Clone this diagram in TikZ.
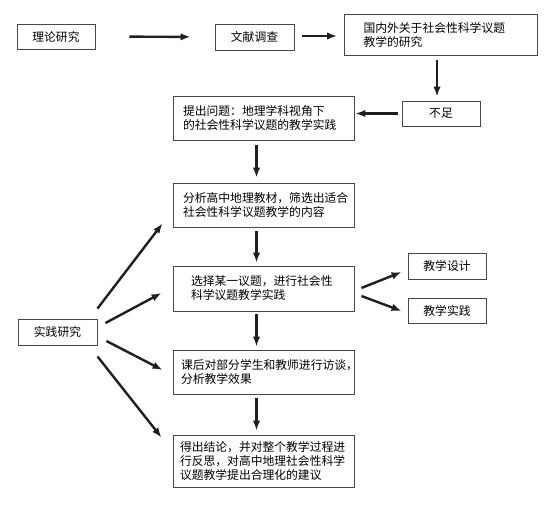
\documentclass[tikz,border=0pt]{standalone}
\usepackage{fontspec}
\setmainfont{Noto Sans CJK SC}
\usetikzlibrary{arrows.meta,calc}
\begin{document}
\begin{tikzpicture}[x=1pt,y=-1pt,
  box/.style={draw=black!72, line width=0.9pt, rectangle, font=\fontsize{11.8}{14}\selectfont, inner ysep=0pt},
  lbox/.style={box, align=left},
  arr/.style={draw=black!88, line width=2.4pt, -{Latex[length=10pt,width=7.5pt]}}]
\useasboundingbox (0,0) rectangle (558,519);
\fill[white] (0,0) rectangle (558,519);
% top row
\node[box, minimum width=78pt, minimum height=25pt] (a) at (56,36.5) {理论研究};
\node[box, minimum width=79pt, minimum height=26pt] (b) at (254.5,37) {文献调查};
\node[lbox, text width=155pt, inner xsep=19pt, minimum height=41pt] (c) at (441,34.5) {国内外关于社会性科学议题\\教学的研究};
\node[box, minimum width=78pt, minimum height=25pt] (d) at (441,113.5) {不足};
% main column
\node[lbox, text width=161pt, inner xsep=10pt, minimum height=44pt] (e) at (263.5,118) {提出问题：地理学科视角下\\的社会性科学议题的教学实践};
\node[lbox, text width=161pt, inner xsep=10pt, minimum height=44pt] (f) at (263.5,205) {分析高中地理教材，筛选出适合\\社会性科学议题教学的内容};
\node[lbox, text width=145pt, inner xsep=18pt, minimum height=45pt] (g) at (263.5,288.5) {选择某一议题，进行社会性\\科学议题教学实践};
\node[lbox, text width=165pt, inner xsep=8pt, minimum height=44pt] (h) at (263.5,372) {课后对部分学生和教师进行访谈，\\分析教学效果};
\node[lbox, text width=167pt, inner xsep=7pt, minimum height=52pt] (i) at (263.5,461) {得出结论，并对整个教学过程进\\行反思，对高中地理社会性科学\\议题教学提出合理化的建议};
% side boxes
\node[box, minimum width=79pt, minimum height=26pt] (j) at (57.5,332) {实践研究};
\node[box, minimum width=78pt, minimum height=26pt] (k) at (447,266) {教学设计};
\node[box, minimum width=78pt, minimum height=25pt] (l) at (447,310.5) {教学实践};
% arrows
\draw[arr, shorten <=34pt, shorten >=24pt] (a.east) -- (b.west);
\draw[arr, shorten <=8pt, shorten >=7pt] ($(b.east)+(0,-1)$) -- ($(b.east -| c.west)+(0,-1)$);
\draw[arr, shorten <=5pt, shorten >=4pt] ($(c.south)+(-4,0)$) -- ($(d.north)+(-4,0)$);
\draw[arr, shorten <=4pt, shorten >=1pt] (d.west) -- (d.west -| e.east);
\draw[arr, shorten <=5pt, shorten >=5pt] ($(e.south)+(-7,0)$) -- ($(f.north)+(-7,0)$);
\draw[arr, shorten <=4pt, shorten >=3pt] ($(f.south)+(-7,0)$) -- ($(g.north)+(-7,0)$);
\draw[arr, shorten <=3pt, shorten >=3pt] ($(g.south)+(-7,0)$) -- ($(h.north)+(-7,0)$);
\draw[arr, shorten <=4pt, shorten >=4pt] ($(h.south)+(-7,0)$) -- ($(i.north)+(-7,0)$);
\draw[arr] ($(g.east)+(7,-0.5)$) -- ($(k.west)+(-6,6)$);
\draw[arr] ($(g.east)+(7,7.5)$) -- ($(l.west)+(-6,0.5)$);
\draw[arr] ($(j.north east)+(0,-10)$) -- ($(f.south west)+(-10,-4)$);
\draw[arr] ($(j.east)+(8,-9)$) -- ($(g.west)+(-11,4.5)$);
\draw[arr] ($(j.east)+(9,9)$) -- ($(h.west)+(-10,-2)$);
\draw[arr] ($(j.south east)+(0,11)$) -- ($(i.north west)+(-11,3)$);
\end{tikzpicture}
\end{document}
